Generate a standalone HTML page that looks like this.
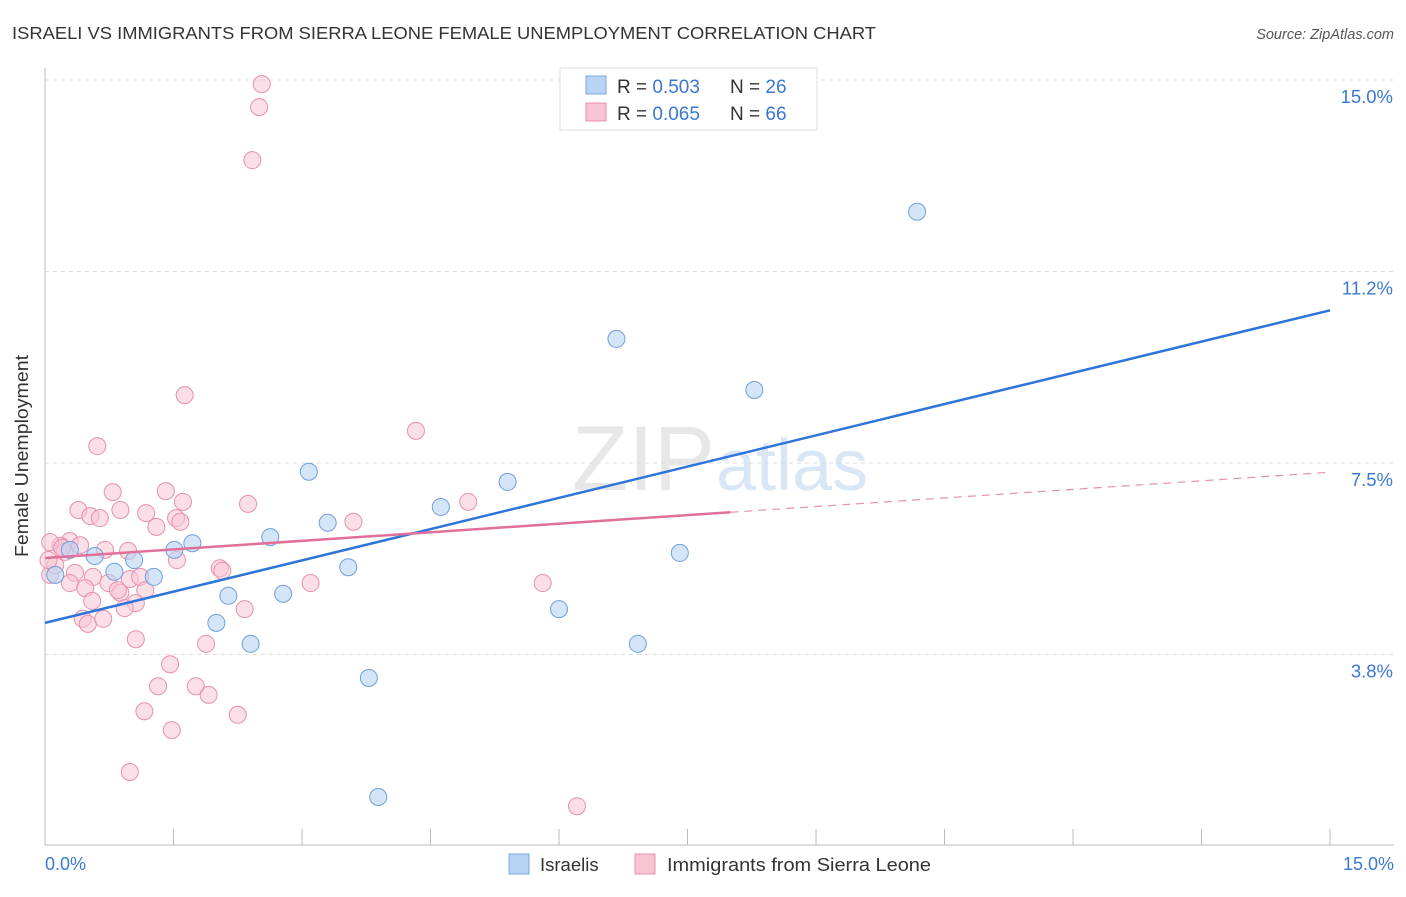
<!DOCTYPE html>
<html><head><meta charset="utf-8"><style>
body{margin:0;background:#fff;font-family:"Liberation Sans",sans-serif}
svg text{font-family:"Liberation Sans",sans-serif}
</style></head><body>
<svg id="c" width="1406" height="892" xmlns="http://www.w3.org/2000/svg">
<text x="12" y="39" font-size="17.5" fill="#333" textLength="864" lengthAdjust="spacingAndGlyphs">ISRAELI VS IMMIGRANTS FROM SIERRA LEONE FEMALE UNEMPLOYMENT CORRELATION CHART</text>
<text x="1394" y="39" font-size="14.5" fill="#555" font-style="italic" text-anchor="end">Source: ZipAtlas.com</text>
<g id="grid"></g>
<text x="715" y="490" font-size="92" fill="#ddd" text-anchor="end" font-family="Liberation Serif" opacity="0.7">ZIP</text>
<text x="716" y="490" font-size="72" fill="#c8dcf2" opacity="0.7">atlas</text>
<g id="pts"></g>
<g id="lines"></g>
<text x="28" y="456" font-size="18" fill="#333" text-anchor="middle" transform="rotate(-90 28 456)" textLength="202" lengthAdjust="spacingAndGlyphs">Female Unemployment</text>
<text x="45" y="870" font-size="18" fill="#3a78d4">0.0%</text>
<text x="1394" y="870" font-size="18" fill="#3a78d4" text-anchor="end">15.0%</text>
<g>
<rect x="560" y="68" width="257" height="62" fill="#fff" stroke="#ddd"/>
<rect x="586" y="76" width="20" height="18" fill="#b8d4f4" stroke="#7aa8e0"/>
<rect x="586" y="103" width="20" height="18" fill="#f8c4d4" stroke="#e890aa"/>
<text x="617" y="93" font-size="19" fill="#333">R = <tspan fill="#3a78d4">0.503</tspan></text>
<text x="730" y="93" font-size="19" fill="#333">N = <tspan fill="#3a78d4">26</tspan></text>
<text x="617" y="120" font-size="19" fill="#333">R = <tspan fill="#3a78d4">0.065</tspan></text>
<text x="730" y="120" font-size="19" fill="#333">N = <tspan fill="#3a78d4">66</tspan></text>
</g>
<g>
<rect x="509" y="854" width="20" height="20" fill="#b8d4f4" stroke="#7aa8e0"/>
<text x="540" y="871" font-size="18.5" fill="#333">Israelis</text>
<rect x="635" y="854" width="20" height="20" fill="#f8c4d4" stroke="#e890aa"/>
<text x="667" y="871" font-size="18.5" fill="#333" textLength="264" lengthAdjust="spacingAndGlyphs">Immigrants from Sierra Leone</text>
</g>
</svg>
<script>
const yTicks=[15.0,11.25,7.5,3.75];
const yTickLabels=["15.0%","11.2%","7.5%","3.8%"];
const xTicks=[0,1.5,3,4.5,6,7.5,9,10.5,12,13.5,15];
const blueX=[10.18,6.67,8.28,3.08,5.40,4.62,3.30,2.63,1.72,1.51,0.58,1.04,7.41,3.54,0.81,1.27,2.14,2.78,6.00,2.00,2.40,6.92,3.78,3.89,0.12,0.29];
const blueY=[12.42,9.93,8.93,7.33,7.13,6.64,6.33,6.05,5.93,5.80,5.68,5.60,5.74,5.46,5.37,5.27,4.90,4.94,4.64,4.37,3.96,3.96,3.29,0.96,5.31,5.80];
const pinkX=[2.53,2.50,2.42,1.63,0.61,4.33,0.79,1.41,4.94,2.37,1.61,0.39,0.53,0.88,0.64,1.18,1.53,1.58,1.30,3.60,0.29,0.18,0.06,0.23,0.70,0.97,0.35,0.56,0.29,0.47,0.74,0.99,1.11,0.88,1.17,0.85,0.55,1.06,0.93,2.33,2.04,2.07,1.54,3.10,5.81,0.44,0.50,0.68,1.06,1.88,1.46,1.32,1.76,1.91,1.16,2.25,1.48,0.99,6.21,0.06,0.12,0.04,0.20,0.41];
const pinkY=[14.92,14.47,13.43,8.83,7.83,8.13,6.93,6.95,6.74,6.70,6.74,6.58,6.46,6.58,6.42,6.52,6.42,6.35,6.25,6.35,5.97,5.88,5.95,5.76,5.80,5.78,5.35,5.27,5.15,5.05,5.15,5.23,5.27,4.96,5.01,5.01,4.80,4.76,4.66,4.64,5.44,5.39,5.60,5.15,5.15,4.45,4.35,4.45,4.05,3.96,3.56,3.13,3.13,2.96,2.64,2.57,2.27,1.45,0.78,5.31,5.50,5.60,5.84,5.89];
const blueTrend=[4.37,10.49];
const pinkTrend=[5.64,7.32]; const pinkSolidEnd=8.0;
const X=v=>45+v*85.67, Y=v=>80+(15-v)*51.07;
const NS="http://www.w3.org/2000/svg";
function mk(p,t,a){const e=document.createElementNS(NS,t);for(const k in a)e.setAttribute(k,a[k]);p.appendChild(e);return e;}
const g=document.getElementById('grid');
yTicks.forEach((t,i)=>{
 const l=mk(g,'line',{x1:45,x2:1394,y1:Y(t),y2:Y(t),stroke:'#ddd','stroke-dasharray':'4,4'});
 
 
 const tx=mk(g,'text',{x:1393,y:Y(t)+23,'font-size':18.5,fill:'#3a78d4','text-anchor':'end'});
 tx.textContent=yTickLabels[i];
 
 
});
const ax=mk(g,'line',{x1:45,x2:1394,y1:845,y2:845,stroke:'#bbb'});


const ay=mk(g,'line',{x1:45,x2:45,y1:68,y2:845,stroke:'#bbb'});


xTicks.forEach(t=>{const l=mk(g,'line',{x1:X(t),x2:X(t),y1:829,y2:845,stroke:'#bbb'});
 
 });
const p=document.getElementById('pts');
pinkX.forEach((x,i)=>{const c=mk(p,'circle',{cx:X(x),cy:Y(pinkY[i]),r:8.5,fill:'#f8c4d4','fill-opacity':0.55,stroke:'#e890aa','stroke-width':1});
 
 });
blueX.forEach((x,i)=>{const c=mk(p,'circle',{cx:X(x),cy:Y(blueY[i]),r:8.5,fill:'#b8d4f4','fill-opacity':0.6,stroke:'#6f9fdc','stroke-width':1});
 
 });
const L=document.getElementById('lines');
const bl=mk(L,'line',{x1:X(0),y1:Y(blueTrend[0]),x2:X(15),y2:Y(blueTrend[1]),stroke:'#2f74d8','stroke-width':2.5});


const pm=pinkTrend[0]+(pinkTrend[1]-pinkTrend[0])*pinkSolidEnd/15;
const pl=mk(L,'line',{x1:X(0),y1:Y(pinkTrend[0]),x2:X(pinkSolidEnd),y2:Y(pm),stroke:'#e0709a','stroke-width':2.5});


const pd=mk(L,'line',{x1:X(pinkSolidEnd),y1:Y(pm),x2:X(15),y2:Y(pinkTrend[1]),stroke:'#e890aa','stroke-width':1.2,'stroke-dasharray':'8,6'});


</script>
</body></html>
